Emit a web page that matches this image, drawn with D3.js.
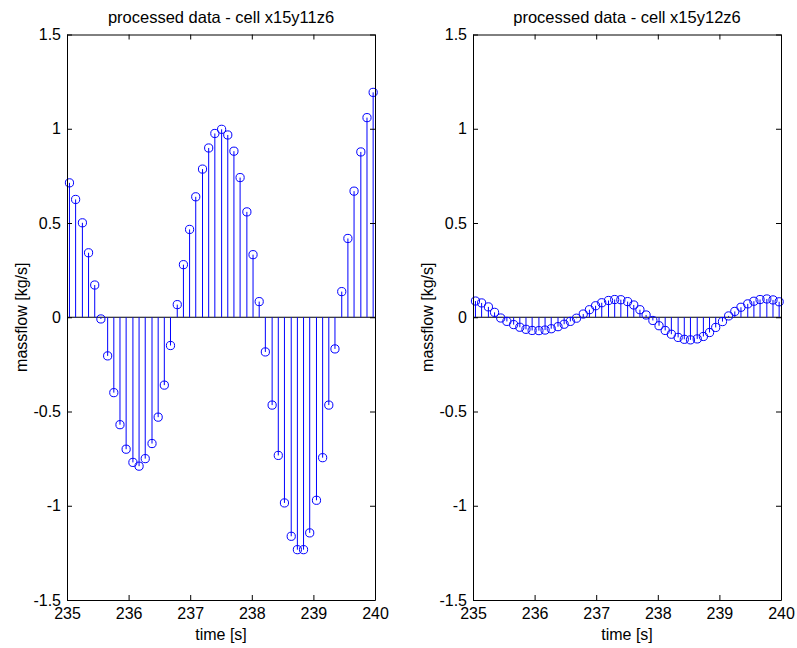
<!DOCTYPE html>
<html>
<head>
<meta charset="utf-8">
<script src="https://cdn.jsdelivr.net/npm/d3@7"></script>
<style>
  body { margin: 0; background: #fff; }
  text { font-family: "Liberation Sans", Arial, sans-serif; fill: #000; }
</style>
</head>
<body>
<div id="chart"></div>
<script>
// sample times [s]
var time = [235.04, 235.14, 235.25, 235.35, 235.45, 235.55, 235.66, 235.76, 235.86, 235.96,
            236.07, 236.17, 236.27, 236.38, 236.48, 236.58, 236.68, 236.79, 236.89, 236.99,
            237.09, 237.20, 237.30, 237.40, 237.51, 237.61, 237.71, 237.81, 237.92, 238.02,
            238.12, 238.22, 238.33, 238.43, 238.53, 238.64, 238.74, 238.84, 238.94, 239.05,
            239.15, 239.25, 239.35, 239.46, 239.56, 239.66, 239.77, 239.87, 239.97]

// massflow [kg/s], cell x15y11z6
var flow_x15y11z6 = [0.713, 0.625, 0.501, 0.342, 0.171, -0.009, -0.205, -0.40, -0.57, -0.70,
                     -0.77, -0.79, -0.75, -0.67, -0.53, -0.36, -0.15, 0.067, 0.279, 0.466,
                     0.639, 0.786, 0.898, 0.975, 0.997, 0.967, 0.881, 0.741, 0.559, 0.332,
                     0.083, -0.184, -0.466, -0.733, -0.985, -1.162, -1.233, -1.233, -1.144, -0.971,
                     -0.745, -0.466, -0.168, 0.136, 0.418, 0.669, 0.877, 1.059, 1.193]

// massflow [kg/s], cell x15y12z6
var flow_x15y12z6 = [0.086, 0.076, 0.055, 0.026, -0.004, -0.022, -0.039, -0.053, -0.064, -0.070,
                     -0.071, -0.068, -0.061, -0.050, -0.037, -0.022, -0.005, 0.017, 0.040, 0.061,
                     0.077, 0.089, 0.094, 0.093, 0.083, 0.065, 0.040, 0.012, -0.017, -0.045,
                     -0.070, -0.090, -0.107, -0.117, -0.120, -0.115, -0.102, -0.081, -0.054, -0.023,
                     0.007, 0.031, 0.053, 0.071, 0.085, 0.094, 0.097, 0.092, 0.082]

var x_ticks = [235, 236, 237, 238, 239, 240]
var y_ticks = [-1.5, -1, -0.5, 0, 0.5, 1, 1.5]
var titles = ["processed data - cell x15y11z6", "processed data - cell x15y12z6"]

var fig_width = 797,
    fig_height = 648

var svg = d3.select("#chart")
  .append("svg")
  .attr("width", fig_width)
  .attr("height", fig_height)
  .style("display", "block")

svg.append("rect")
  .attr("width", fig_width)
  .attr("height", fig_height)
  .attr("fill", "#fff")

function draw_stem(left, values, title){
  var width = 308,
      top = 34.5,
      height = 565.5,
      tick_len = 5,
      radius = 4.1

  var g = svg.append("g")
    .attr("transform", "translate(" + left + "," + top + ")")

  var x = d3.scaleLinear()
    .domain([235, 240])
    .range([0, width])

  var y = d3.scaleLinear()
    .domain([-1.5, 1.5])
    .range([height, 0])

  var points = time.map(function(t, i){ return {t: t, v: values[i]} })

  // zero baseline
  g.append("line")
    .attr("x1", 0).attr("x2", width)
    .attr("y1", y(0)).attr("y2", y(0))
    .attr("stroke", "#000")

  // stems
  g.selectAll(".stem")
    .data(points)
    .enter()
    .append("line")
    .attr("class", "stem")
    .attr("x1", function(d){return x(d.t)})
    .attr("x2", function(d){return x(d.t)})
    .attr("y1", y(0))
    .attr("y2", function(d){return y(d.v)})
    .attr("stroke", "#0000ff")
    .attr("stroke-width", 1)

  // markers
  g.selectAll(".marker")
    .data(points)
    .enter()
    .append("circle")
    .attr("class", "marker")
    .attr("cx", function(d){return x(d.t)})
    .attr("cy", function(d){return y(d.v)})
    .attr("r", radius)
    .attr("fill", "none")
    .attr("stroke", "#0000ff")
    .attr("stroke-width", 1)

  // axes, ticks pointing inward on all four sides
  var num = function(d){ return String(d) }
  var bottom = d3.axisBottom(x).tickValues(x_ticks).tickSizeInner(-tick_len).tickSizeOuter(0).tickFormat(num)
  var topAx = d3.axisTop(x).tickValues(x_ticks).tickSizeInner(-tick_len).tickSizeOuter(0).tickFormat("")
  var leftAx = d3.axisLeft(y).tickValues(y_ticks).tickSizeInner(-tick_len).tickSizeOuter(0).tickPadding(6).tickFormat(num)
  var rightAx = d3.axisRight(y).tickValues(y_ticks).tickSizeInner(-tick_len).tickSizeOuter(0).tickFormat("")

  var gb = g.append("g").attr("transform", "translate(0," + height + ")").call(bottom)
  g.append("g").call(topAx)
  g.append("g").call(leftAx)
  g.append("g").attr("transform", "translate(" + width + ",0)").call(rightAx)

  g.selectAll(".domain").attr("stroke", "#000")
  g.selectAll(".tick line").attr("stroke", "#000")
  g.selectAll(".tick text")
    .style("font-family", "'Liberation Sans', Arial, sans-serif")
    .style("font-size", "16px")
    .attr("fill", "#000")
  gb.selectAll(".tick text").attr("y", 8).attr("dy", "0.71em")

  // title and labels
  g.append("text")
    .attr("x", width / 2)
    .attr("y", -12)
    .attr("text-anchor", "middle")
    .style("font-size", "16.5px")
    .text(title)

  g.append("text")
    .attr("x", width / 2)
    .attr("y", height + 40)
    .attr("text-anchor", "middle")
    .style("font-size", "16px")
    .text("time [s]")

  g.append("text")
    .attr("transform", "translate(" + (-40) + "," + (height / 2) + ") rotate(-90)")
    .attr("text-anchor", "middle")
    .style("font-size", "16px")
    .text("massflow [kg/s]")
}

draw_stem(67, flow_x15y11z6, titles[0])
draw_stem(473, flow_x15y12z6, titles[1])
</script>
</body>
</html>
